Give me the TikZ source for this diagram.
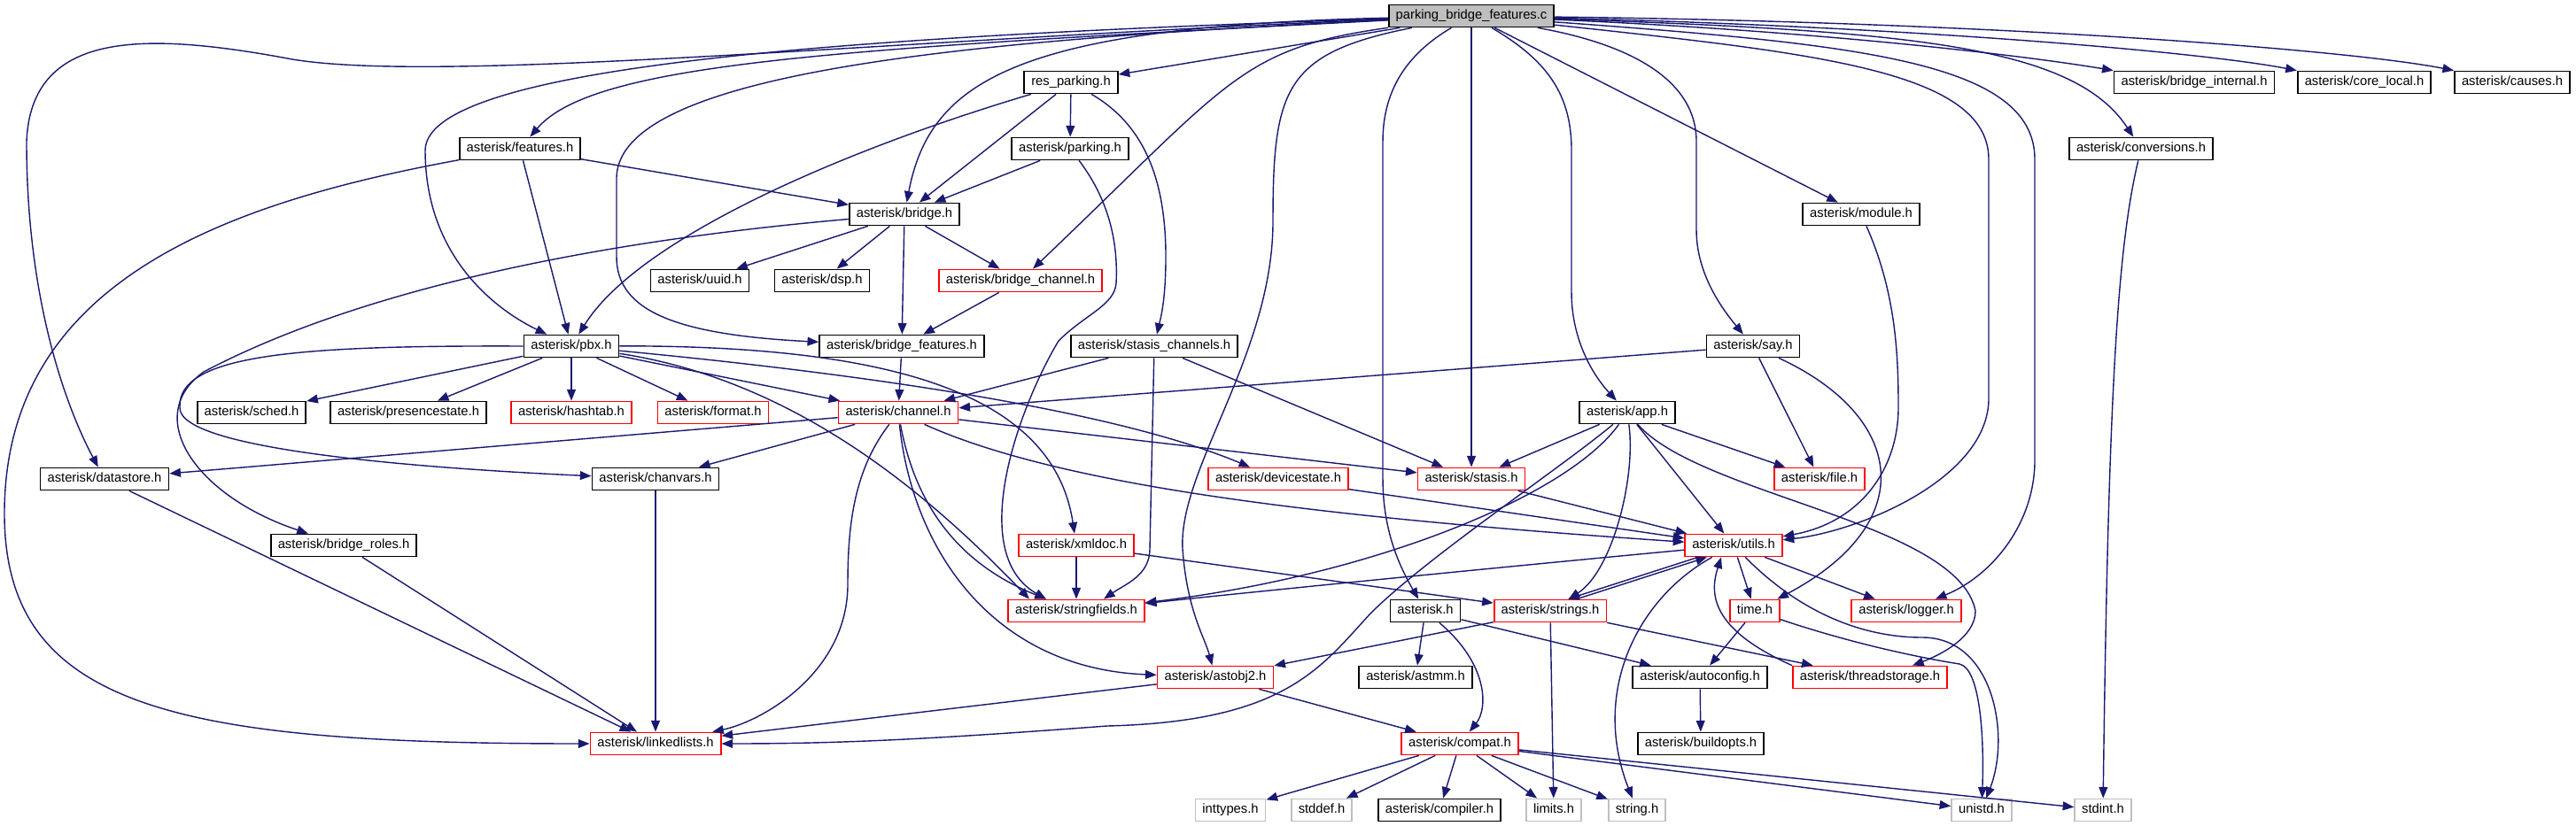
\documentclass[tikz,border=0pt]{standalone}
\usepackage{fontspec}
\setmainfont{Liberation Sans}
\usetikzlibrary{arrows.meta}
\definecolor{edgeblue}{HTML}{191970}
\definecolor{boxgray}{HTML}{BFBFBF}

\begin{document}
\begin{tikzpicture}[x=1cm, y=-1cm, >={Triangle[length=3.6pt,width=2.8pt]},
    hdr/.style={draw=black, line width=0.5pt, fill=white, inner xsep=0.8mm, inner ysep=0pt,
        minimum height=2.5mm, text height=3.1pt, text depth=0.9pt,
        font=\fontsize{4.2pt}{5pt}\selectfont},
    hdrred/.style={hdr, draw=red},
    hdrsys/.style={hdr, draw=boxgray},
    srcfile/.style={hdr, fill=boxgray},
    dep/.style={->, draw=edgeblue, line width=0.4pt}]
    \useasboundingbox (0,0) rectangle (29.08,9.33);

    % one row of headers per include depth
    \node[srcfile] (root) at (16.61,0.18) {parking\_bridge\_features.c};

    \node[hdr] (resparking) at (12.09,0.93) {res\_parking.h};
    \node[hdr] (bridgeint) at (24.77,0.93) {asterisk/bridge\_internal.h};
    \node[hdr] (corelocal) at (26.69,0.93) {asterisk/core\_local.h};
    \node[hdr] (causes) at (28.36,0.93) {asterisk/causes.h};

    \node[hdr] (features) at (5.87,1.68) {asterisk/features.h};
    \node[hdr] (parking) at (12.08,1.68) {asterisk/parking.h};
    \node[hdr] (conversions) at (24.17,1.68) {asterisk/conversions.h};

    \node[hdr] (bridge) at (10.21,2.42) {asterisk/bridge.h};
    \node[hdr] (module) at (21.01,2.42) {asterisk/module.h};

    \node[hdr] (uuid) at (7.90,3.17) {asterisk/uuid.h};
    \node[hdr] (dsp) at (9.28,3.17) {asterisk/dsp.h};
    \node[hdrred] (bridgechan) at (11.52,3.17) {asterisk/bridge\_channel.h};

    \node[hdr] (pbx) at (6.45,3.91) {asterisk/pbx.h};
    \node[hdr] (bridgefeat) at (10.18,3.91) {asterisk/bridge\_features.h};
    \node[hdr] (stasischan) at (13.03,3.91) {asterisk/stasis\_channels.h};
    \node[hdr] (say) at (19.79,3.91) {asterisk/say.h};

    \node[hdr] (sched) at (2.84,4.66) {asterisk/sched.h};
    \node[hdr] (presence) at (4.61,4.66) {asterisk/presencestate.h};
    \node[hdrred] (hashtab) at (6.45,4.66) {asterisk/hashtab.h};
    \node[hdrred] (format) at (8.05,4.66) {asterisk/format.h};
    \node[hdrred] (channel) at (10.14,4.66) {asterisk/channel.h};
    \node[hdr] (app) at (18.37,4.66) {asterisk/app.h};

    \node[hdr] (datastore) at (1.18,5.41) {asterisk/datastore.h};
    \node[hdr] (chanvars) at (7.40,5.41) {asterisk/chanvars.h};
    \node[hdrred] (devstate) at (14.43,5.41) {asterisk/devicestate.h};
    \node[hdrred] (stasis) at (16.61,5.41) {asterisk/stasis.h};
    \node[hdrred] (file) at (20.54,5.41) {asterisk/file.h};

    \node[hdr] (bridgeroles) at (3.88,6.16) {asterisk/bridge\_roles.h};
    \node[hdrred] (xmldoc) at (12.15,6.16) {asterisk/xmldoc.h};
    \node[hdrred] (utils) at (19.57,6.16) {asterisk/utils.h};

    \node[hdrred] (stringfields) at (12.15,6.90) {asterisk/stringfields.h};
    \node[hdr] (asteriskh) at (16.09,6.90) {asterisk.h};
    \node[hdrred] (strings) at (17.50,6.90) {asterisk/strings.h};
    \node[hdrred] (time) at (19.81,6.90) {time.h};
    \node[hdrred] (logger) at (21.52,6.90) {asterisk/logger.h};

    \node[hdrred] (astobj2) at (13.72,7.65) {asterisk/astobj2.h};
    \node[hdr] (astmm) at (15.98,7.65) {asterisk/astmm.h};
    \node[hdr] (autoconfig) at (19.19,7.65) {asterisk/autoconfig.h};
    \node[hdrred] (threadstorage) at (21.11,7.65) {asterisk/threadstorage.h};

    \node[hdrred] (linkedlists) at (7.40,8.40) {asterisk/linkedlists.h};
    \node[hdrred] (compat) at (16.48,8.40) {asterisk/compat.h};
    \node[hdr] (buildopts) at (19.20,8.40) {asterisk/buildopts.h};

    \node[hdrsys] (inttypes) at (13.89,9.15) {inttypes.h};
    \node[hdrsys] (stddef) at (14.92,9.15) {stddef.h};
    \node[hdr] (compiler) at (16.25,9.15) {asterisk/compiler.h};
    \node[hdrsys] (limits) at (17.54,9.15) {limits.h};
    \node[hdrsys] (stringh) at (18.48,9.15) {string.h};
    \node[hdrsys] (unistd) at (22.37,9.15) {unistd.h};
    \node[hdrsys] (stdint) at (23.74,9.15) {stdint.h};

    % includes of the source file
    \draw[dep] (root) -- (resparking);
    \draw[dep] (root) .. controls (9.5,0.55) and (6.7,0.7) .. (features);
    \draw[dep] (root) .. controls (10,0.45) and (5,0.95) .. (3.3,0.67) .. controls (1.6,0.35) and (0.35,0.35) .. (0.3,1.6) .. controls (0.3,3.5) and (0.8,4.7) .. (datastore);
    \draw[dep] (root) .. controls (10,0.4) and (4.8,0.7) .. (4.8,1.7) .. controls (4.8,2.9) and (5.6,3.5) .. (pbx);
    \draw[dep] (root) .. controls (11.5,0.3) and (10.5,0.9) .. (bridge);
    \draw[dep] (root) .. controls (11,0.45) and (7.0,0.8) .. (6.96,2.0) -- (6.96,2.9) .. controls (6.96,3.5) and (7.6,3.78) .. (bridgefeat);
    \draw[dep] (root) .. controls (14.0,0.55) and (13.9,0.9) .. (bridgechan);
    \draw[dep] (root) .. controls (14.5,0.6) and (14.37,1.0) .. (14.37,2.5) .. controls (14.37,4.0) and (13.3,5.3) .. (13.35,6.2) .. controls (13.4,6.9) and (13.6,7.2) .. (astobj2);
    \draw[dep] (root) .. controls (15.9,0.6) and (15.61,1.0) .. (15.61,1.6) -- (15.61,5.4) .. controls (15.61,6.0) and (15.8,6.4) .. (asteriskh);
    \draw[dep] (root) -- (stasis);
    \draw[dep] (root) .. controls (17.5,0.7) and (17.74,1.1) .. (17.74,1.7) -- (17.74,3.3) .. controls (17.74,3.8) and (17.95,4.2) .. (app);
    \draw[dep] (root) .. controls (18.4,0.5) and (19.15,0.9) .. (19.15,1.6) -- (19.15,2.6) .. controls (19.15,3.1) and (19.45,3.5) .. (say);
    \draw[dep] (root) -- (module);
    \draw[dep] (root) .. controls (20.5,0.6) and (22.45,0.8) .. (22.45,1.8) -- (22.45,4.5) .. controls (22.45,5.4) and (21.0,6.0) .. (utils);
    \draw[dep] (root) .. controls (21,0.5) and (22.97,0.7) .. (22.97,1.8) -- (22.97,5.2) .. controls (22.97,5.9) and (22.5,6.5) .. (logger);
    \draw[dep] (root) .. controls (21.5,0.35) and (23.4,0.5) .. (conversions);
    \draw[dep] (root) .. controls (20.5,0.35) and (22.8,0.62) .. (bridgeint.north west);
    \draw[dep] (root) .. controls (21.5,0.3) and (24.8,0.58) .. (corelocal.north west);
    \draw[dep] (root) .. controls (22.5,0.25) and (26.5,0.56) .. (causes.north west);

    \draw[dep] (resparking) .. controls (9.5,1.7) and (7.2,2.7) .. (pbx);
    \draw[dep] (resparking) -- (bridge);
    \draw[dep] (resparking) -- (parking);
    \draw[dep] (resparking) .. controls (12.9,1.4) and (13.16,2.0) .. (13.16,2.9) .. controls (13.16,3.4) and (13.1,3.6) .. (stasischan);

    \draw[dep] (features) -- (pbx);
    \draw[dep] (features) -- (bridge);
    \draw[dep] (features) .. controls (2.5,2.3) and (0.05,3.2) .. (0.05,5.8) .. controls (0.05,8.0) and (2.0,8.4) .. (linkedlists);

    \draw[dep] (parking) -- (bridge);
    \draw[dep] (parking) .. controls (12.55,2.3) and (12.62,2.8) .. (12.6,3.2) .. controls (12.58,3.45) and (12.25,3.55) .. (11.95,3.85) .. controls (11.5,4.6) and (10.9,6.25) .. ([xshift=-3.4mm]stringfields.north);

    \draw[dep] (bridge) -- (uuid);
    \draw[dep] (bridge) -- (dsp);
    \draw[dep] (bridge) -- (bridgechan);
    \draw[dep] (bridge) -- (bridgefeat);
    \draw[dep] (bridge) .. controls (7.0,2.7) and (4.2,3.2) .. (2.3,4.2) .. controls (1.6,4.7) and (2.2,5.6) .. (bridgeroles);
    \draw[dep] (bridgechan) -- (bridgefeat);
    \draw[dep] (bridgefeat) -- (channel);

    \draw[dep] (pbx) -- (sched);
    \draw[dep] (pbx) -- (presence);
    \draw[dep] (pbx) -- (hashtab);
    \draw[dep] (pbx) -- (format);
    \draw[dep] (pbx) -- (channel);
    \draw[dep] (pbx) .. controls (9.5,4.2) and (12.5,4.6) .. (devstate);
    \draw[dep] (pbx) .. controls (10.2,3.9) and (11.9,4.5) .. (xmldoc);
    \draw[dep] (pbx) .. controls (9.0,4.3) and (10.5,5.6) .. ([xshift=-5.3mm]stringfields.north);
    \draw[dep] (pbx.west) .. controls (3.4,3.9) and (2.0,4.0) .. (2.03,4.6) .. controls (2.0,5.1) and (5.0,5.3) .. (chanvars);

    \draw[dep] (channel) -- (datastore);
    \draw[dep] (channel) -- (chanvars);
    \draw[dep] (channel) -- (stasis);
    \draw[dep] (channel) .. controls (12.0,5.5) and (15.0,5.85) .. (utils);
    \draw[dep] (channel) .. controls (9.65,5.3) and (9.57,5.9) .. (9.57,6.6) .. controls (9.57,7.6) and (8.6,8.15) .. (linkedlists);
    \draw[dep] (channel) .. controls (10.35,5.8) and (10.9,6.4) .. ([xshift=-3.4mm]stringfields.north);
    \draw[dep] (channel) .. controls (10.3,6.2) and (11.2,7.55) .. (astobj2);

    \draw[dep] (stasischan) -- (channel);
    \draw[dep] (stasischan) -- (12.98,6.2) .. controls (12.98,6.5) and (12.7,6.6) .. ([xshift=3.1mm]stringfields.north);
    \draw[dep] (stasischan) -- (stasis);

    \draw[dep] (say) -- (channel);
    \draw[dep] (say) -- (file);
    \draw[dep] (say) .. controls (21.5,4.7) and (21.7,5.9) .. (time);

    \draw[dep] (app) -- (stasis);
    \draw[dep] (app) -- (file);
    \draw[dep] (app) -- (utils);
    \draw[dep] (app) .. controls (18.47,5.4) and (18.2,6.45) .. (strings);
    \draw[dep] (app) .. controls (17.7,5.6) and (15.5,6.5) .. (stringfields);
    \draw[dep] (app) .. controls (17.6,5.3) and (16.1,6.3) .. (15.47,6.93) .. controls (14.9,7.55) and (14.5,8.15) .. (12.5,8.2) .. controls (10.5,8.35) and (9.5,8.4) .. (linkedlists);
    \draw[dep] (app) .. controls (19.2,5.6) and (22.1,5.9) .. (22.3,6.9) .. controls (22.3,7.2) and (21.9,7.4) .. ([xshift=4.8mm]threadstorage.north);

    \draw[dep] (module) .. controls (21.4,3.3) and (21.43,4.0) .. (21.43,4.6) .. controls (21.43,5.3) and (21.0,5.9) .. (utils);
    \draw[dep] (conversions) .. controls (23.9,2.8) and (23.8,4.5) .. (stdint);

    \draw[dep] (datastore) -- (linkedlists);
    \draw[dep] (chanvars) -- (linkedlists);
    \draw[dep] (bridgeroles) -- (linkedlists);
    \draw[dep] (devstate) -- (utils);
    \draw[dep] (stasis) -- (utils);
    \draw[dep] (xmldoc) -- (stringfields);
    \draw[dep] (xmldoc) -- (strings);

    % utils.h and strings.h include each other
    \draw[dep] (utils) .. controls (17.0,6.4) and (14.0,6.7) .. (stringfields);
    \draw[dep] ([xshift=-4mm]utils.south) -- ([xshift=2mm]strings.north);
    \draw[dep] ([xshift=3mm]strings.north) -- ([xshift=-3mm]utils.south);
    \draw[dep] (utils) -- (time);
    \draw[dep] (utils) -- (logger);
    \draw[dep] (utils) .. controls (18.5,6.75) and (17.95,7.8) .. (stringh);
    \draw[dep] (utils) .. controls (20.3,6.9) and (21.0,7.2) .. (21.7,7.2) .. controls (22.5,7.2) and (22.7,8.3) .. (unistd);
    \draw[dep] (threadstorage.north west) .. controls (19.3,7.1) and (19.3,6.7) .. ([xshift=-1.4mm]utils.south);

    \draw[dep] (strings) -- (astobj2);
    \draw[dep] (strings) -- (limits);
    \draw[dep] (strings) -- (threadstorage);
    \draw[dep] (time) -- (autoconfig);
    \draw[dep] (time) .. controls (21.0,7.3) and (21.8,7.45) .. (22.12,7.5) .. controls (22.35,7.55) and (22.4,8.3) .. (unistd);

    \draw[dep] (asteriskh) -- (astmm);
    \draw[dep] (asteriskh) .. controls (16.8,7.5) and (16.8,8.0) .. (compat);
    \draw[dep] (asteriskh) -- (autoconfig);
    \draw[dep] (autoconfig) -- (buildopts);
    \draw[dep] (astobj2) -- (linkedlists);
    \draw[dep] (astobj2) -- (compat);

    \draw[dep] (compat) -- (inttypes);
    \draw[dep] (compat) -- (stddef);
    \draw[dep] (compat) -- (compiler);
    \draw[dep] (compat) -- (limits);
    \draw[dep] (compat) -- (stringh);
    \draw[dep] (compat) -- (unistd);
    \draw[dep] (compat) -- (stdint);
\end{tikzpicture}
\end{document}
